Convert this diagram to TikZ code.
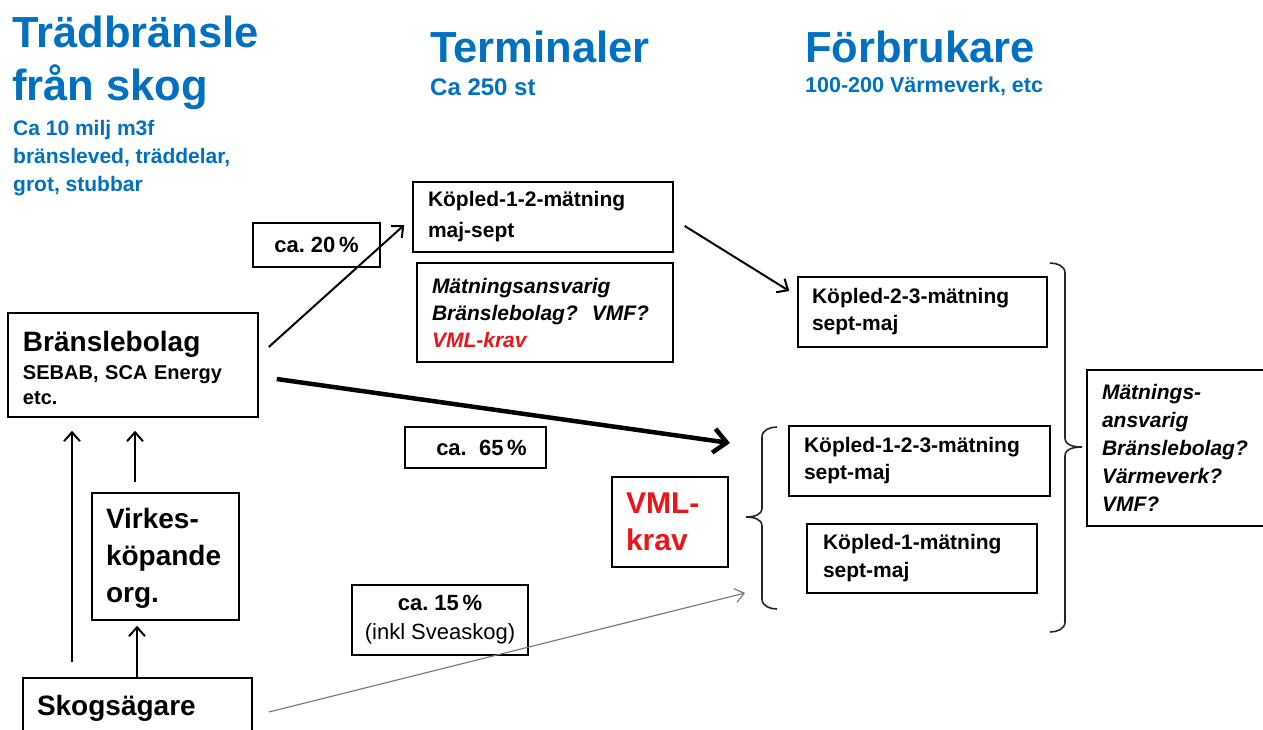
\documentclass[tikz,border=0pt]{standalone}
\usepackage{fontspec}
\setmainfont{Liberation Sans}
\usetikzlibrary{arrows.meta,calc}
\definecolor{tblue}{RGB}{0,112,192}
\definecolor{tred}{RGB}{235,20,25}
\newcommand{\fsz}[2]{\fontsize{#1pt}{#2pt}\selectfont}
\hyphenpenalty=10000
\exhyphenpenalty=10000
\frenchspacing
\begin{document}
\begin{tikzpicture}[x=1pt,y=-1pt,
  box/.style={draw=black, line width=1.5pt, inner ysep=0pt, align=left},
  title/.style={inner sep=0pt, align=left, text=tblue, font=\bfseries\fsz{43.5}{53}},
  sub/.style={inner sep=0pt, align=left, text=tblue, font=\bfseries\fsz{21}{28}},
  arr/.style={line width=2pt, -{Straight Barb[length=9pt,width=16pt]}},
  bigarr/.style={line width=4.5pt, -{Straight Barb[length=13pt,width=24pt]}},
  thinarr/.style={line width=1.1pt, draw=black!55, -{Straight Barb[length=9pt,width=14pt]}},
  brace/.style={line width=1.6pt, draw=black!85}
]
\useasboundingbox (0,0) rectangle (1263,729);

% titles
\node[title, anchor=north west] (t1) at (12,16) {Trädbränsle\\från skog};
\node[sub, anchor=north west] (s1) at (13,120) {Ca 10 milj m3f\\bränsleved, träddelar,\\grot, stubbar};
\node[title, anchor=base west] (t2) at (430,62) {Terminaler};
\node[sub, anchor=base west, font=\bfseries\fsz{24}{28}] (s2) at (430,95) {Ca 250 st};
\node[title, anchor=base west] (t3) at (805,62) {Förbrukare};
\node[sub, anchor=base west, font=\bfseries\fsz{21.5}{28}] (s3) at (805,92) {100-200 Värmeverk, etc};

% left column
\node[box, font=\bfseries\fsz{20}{25}, text width=220pt, inner xsep=15pt, minimum height=104pt] (bran) at (133,365)
  {{\fsz{28}{30}\rule{0pt}{26pt}Bränslebolag}\\[3pt]SEBAB, SCA Energy\\etc.};
\node[box, font=\bfseries\fsz{28}{37}, text width=119pt, inner xsep=14pt, minimum height=127pt] (virk) at (165.5,556.5)
  {\rule{0pt}{24pt}Virkes-\\köpande\\org.};
\node[box, font=\bfseries\fsz{28}{30}, text width=201pt, inner xsep=14pt, minimum height=60pt] (skog) at (137.5,708)
  {Skogsägare};

% percentage boxes
\node[box, font=\bfseries\fsz{22}{26}, align=center, minimum width=127pt, minimum height=44pt] (p20) at (316.5,245) {ca. 20\,\%};
\node[box, font=\bfseries\fsz{22}{26}, align=center, minimum width=141pt, minimum height=41pt] (p65) at (475.5,447.5) {\hspace{12pt}ca.\ \ 65\,\%};
\node[box, font=\fsz{22}{29}, align=center, minimum width=176pt, minimum height=70pt] (p15) at (440,620)
  {\textbf{ca. 15\,\%}\\(inkl Sveaskog)};

% terminal column
\node[box, font=\bfseries\fsz{21}{31}, text width=230pt, inner xsep=15pt, minimum height=70pt] (k12) at (543,217)
  {Köpled-1-2-mätning\\maj-sept};
\node[box, font=\bfseries\itshape\fsz{21}{27}, text width=226pt, inner xsep=15pt, minimum height=99pt] (m1) at (545,312.5)
  {Mätningsansvarig\\Bränslebolag?\ \ VMF?\\\textcolor{tred}{VML-krav}};
\node[box, font=\bfseries\fsz{30}{37}, text=tred, text width=88pt, inner xsep=14pt, minimum height=90pt] (vml) at (670,522)
  {VML-\\krav};

% consumer column
\node[box, font=\bfseries\fsz{21}{27}, text width=221pt, inner xsep=14pt, minimum height=70pt] (k23) at (922.5,312)
  {Köpled-2-3-mätning\\sept-maj};
\node[box, font=\bfseries\fsz{21}{27}, text width=231pt, inner xsep=15pt, minimum height=70pt] (k123) at (919.5,461)
  {Köpled-1-2-3-mätning\\sept-maj};
\node[box, font=\bfseries\fsz{21}{28}, text width=198pt, inner xsep=16pt, minimum height=69pt] (k1) at (922,558.5)
  {Köpled-1-mätning\\sept-maj};
\node[box, font=\bfseries\itshape\fsz{21}{28}, text width=155pt, inner xsep=15pt, minimum height=156pt] (m2) at (1179.5,448)
  {Mätnings-\\ansvarig\\Bränslebolag?\\Värmeverk?\\VMF?};

% braces
\coordinate (lbtip) at (746,517);
\coordinate (rbtip) at (1082,447);
\draw[brace] (777,427) to[out=180,in=90] (762,437) -- (762,508)
  to[out=-90,in=0] (lbtip) to[out=0,in=90] (762,526) -- (762,599) to[out=-90,in=180] (777,609);
\draw[brace] (1050,263) to[out=0,in=90] (1065,273) -- (1065,438)
  to[out=-90,in=180] (rbtip) to[out=180,in=90] (1065,456) -- (1065,622) to[out=-90,in=0] (1050,632);

% vertical arrows
\coordinate (xa) at (72,0);
\coordinate (xb) at (135,0);
\coordinate (xc) at (137,0);
\draw[arr, shorten <=15pt, shorten >=13pt] (skog.north -| xa) -- (bran.south -| xa);
\draw[arr, shorten <=10pt, shorten >=13pt] (virk.north -| xb) -- (bran.south -| xb);
\draw[arr, shorten >=5pt] (skog.north -| xc) -- (virk.south -| xc);

% flow arrows
\draw[arr] ($(bran.east)+(10,-18)$) -- ($(k12.west)+(-8,8)$);
\draw[arr] ($(k12.east)+(11,9)$) -- ($(k23.west)+(-8,-21)$);
\draw[bigarr] ($(bran.east)+(18,14)$) -- ($(lbtip)+(-16,-74)$);
\draw[thinarr] ($(skog.east)+(16,4)$) -- ($(lbtip)+(-1,76)$);
\end{tikzpicture}
\end{document}
